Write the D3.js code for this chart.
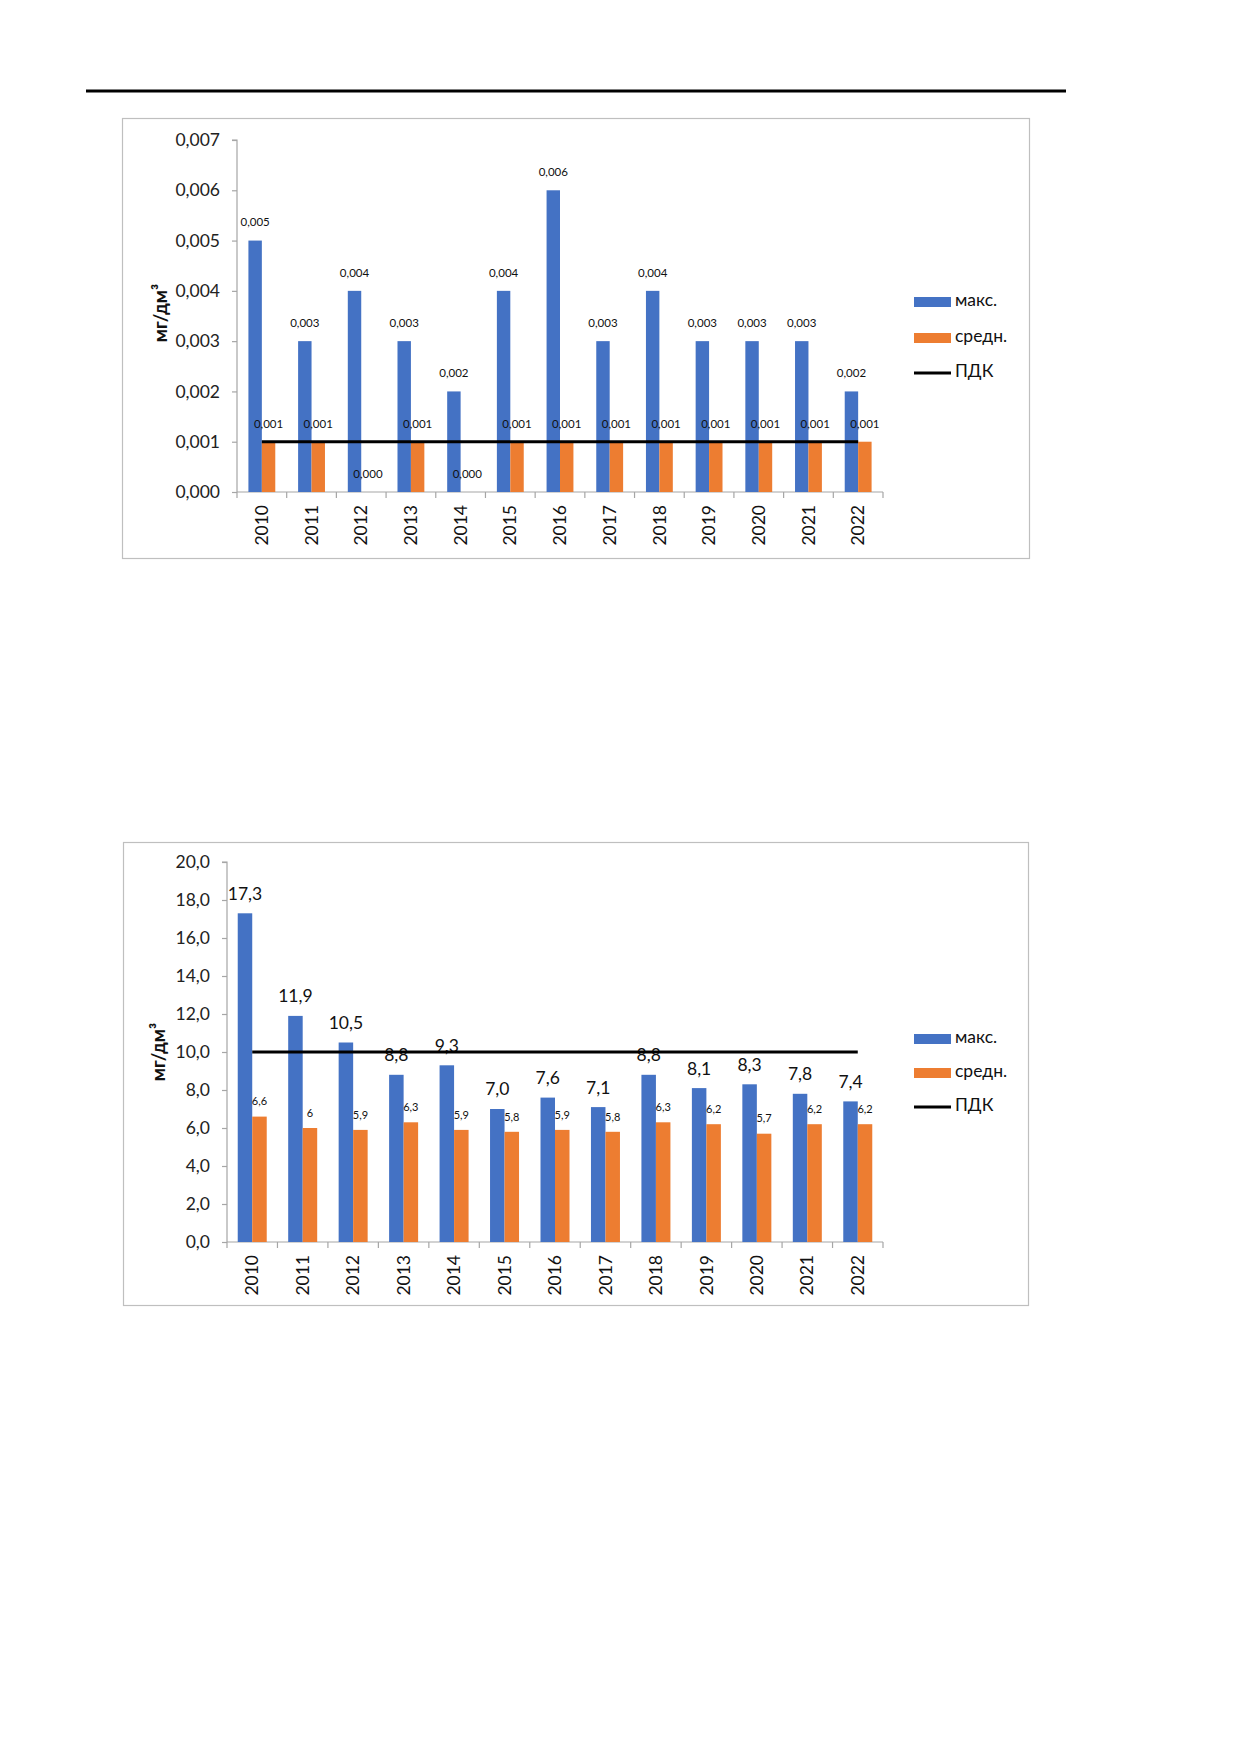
<!DOCTYPE html>
<html><head><meta charset="utf-8">
<script src="https://cdn.jsdelivr.net/npm/d3@7"></script>
<style>
html,body{margin:0;padding:0;background:#fff;}
svg{display:block;font-family:Lato,"Open Sans",sans-serif;}
</style></head>
<body>
<svg id="page" width="1240" height="1754"></svg>
<script>
// ---------- DATA ----------
const years = ["2010","2011","2012","2013","2014","2015","2016","2017","2018","2019","2020","2021","2022"];

// Chart 1
const c1Max = [0.005,0.003,0.004,0.003,0.002,0.004,0.006,0.003,0.004,0.003,0.003,0.003,0.002];
const c1Avg = [0.001,0.001,0,0.001,0,0.001,0.001,0.001,0.001,0.001,0.001,0.001,0.001];
const c1MaxLabels = ["0,005","0,003","0,004","0,003","0,002","0,004","0,006","0,003","0,004","0,003","0,003","0,003","0,002"];
const c1AvgLabels = ["0,001","0,001","0,000","0,001","0,000","0,001","0,001","0,001","0,001","0,001","0,001","0,001","0,001"];
const c1Pdk = 0.001;
const c1Ticks = [0,0.001,0.002,0.003,0.004,0.005,0.006,0.007];
const c1TickLabels = ["0,000","0,001","0,002","0,003","0,004","0,005","0,006","0,007"];

// Chart 2
const c2Max = [17.3,11.9,10.5,8.8,9.3,7.0,7.6,7.1,8.8,8.1,8.3,7.8,7.4];
const c2Avg = [6.6,6.0,5.9,6.3,5.9,5.8,5.9,5.8,6.3,6.2,5.7,6.2,6.2];
const c2MaxLabels = ["17,3","11,9","10,5","8,8","9,3","7,0","7,6","7,1","8,8","8,1","8,3","7,8","7,4"];
const c2AvgLabels = ["6,6","6","5,9","6,3","5,9","5,8","5,9","5,8","6,3","6,2","5,7","6,2","6,2"];
const c2Pdk = 10;
const c2Ticks = [0,2,4,6,8,10,12,14,16,18,20];
const c2TickLabels = ["0,0","2,0","4,0","6,0","8,0","10,0","12,0","14,0","16,0","18,0","20,0"];

const seriesNames = ["макс.","средн.","ПДК"];
const yTitle = "мг/дм³";

// ---------- STYLE ----------
const BLUE = "#4472C4", ORANGE = "#ED7D31";
const AXIS = "#a6a6a6", FRAME = "#bfbfbf";

const svg = d3.select("#page");

// top rule
svg.append("line").attr("x1",86).attr("x2",1066).attr("y1",91).attr("y2",91)
  .attr("stroke","#000").attr("stroke-width",3);

function drawChart(o){
  const g = svg.append("g");
  g.append("rect").attr("x",o.frame[0]+0.5).attr("y",o.frame[1]+0.5)
    .attr("width",o.frame[2]).attr("height",o.frame[3])
    .attr("fill","#fff").attr("stroke",FRAME).attr("stroke-width",1.2);

  const x = d3.scaleBand().domain(years).range([o.x0,o.x1]).padding(0);
  const sub = d3.scaleBand().domain(["max","avg"]).range([0,x.bandwidth()])
    .paddingInner(0).paddingOuter(o.gap);
  const y = d3.scaleLinear().domain([o.ticks[0],o.ticks[o.ticks.length-1]]).range([o.y0,o.yTop]);

  // y axis
  const yAxis = d3.axisLeft(y).tickValues(o.ticks).tickFormat((d,i)=>o.tickLabels[i])
    .tickSize(5).tickPadding(12);
  const ya = g.append("g").attr("transform",`translate(${o.x0},0)`).call(yAxis);
  ya.select(".domain").attr("stroke",AXIS).attr("stroke-width",1.2).attr("d",`M-5,${o.yTop}H0V${o.y0}`);
  ya.selectAll(".tick line").attr("stroke",AXIS).attr("stroke-width",1.2);
  ya.selectAll(".tick text").attr("font-size",17.5).attr("fill","#222").attr("font-family","Lato");

  // x axis
  const xa = g.append("g").attr("transform",`translate(0,${o.y0})`)
    .call(d3.axisBottom(x).tickSize(0).tickPadding(0));
  xa.select(".domain").attr("stroke",AXIS).attr("stroke-width",1.2).attr("d",`M${o.x0},0H${o.x1}`);
  xa.selectAll(".tick text").attr("font-size",17.5).attr("fill","#111").attr("font-family","Lato")
    .attr("transform","rotate(-90)").attr("text-anchor","end").attr("dy","0.35em")
    .attr("x",-13).attr("y",0);
  // category boundary ticks
  xa.selectAll("line.bt").data(years.concat(["end"])).join("line").attr("class","bt")
    .attr("x1",(d,i)=>o.x0+i*x.step()).attr("x2",(d,i)=>o.x0+i*x.step())
    .attr("y1",0).attr("y2",6).attr("stroke",AXIS).attr("stroke-width",1.2);

  // bars
  const data = years.map((yr,i)=>({yr,max:o.max[i],avg:o.avg[i],ml:o.maxLabels[i],al:o.avgLabels[i]}));
  g.selectAll("rect.bmax").data(data).join("rect").attr("class","bmax")
    .attr("x",d=>x(d.yr)+sub("max")).attr("width",sub.bandwidth())
    .attr("y",d=>y(d.max)).attr("height",d=>y(0)-y(d.max)).attr("fill",BLUE);
  g.selectAll("rect.bavg").data(data).join("rect").attr("class","bavg")
    .attr("x",d=>x(d.yr)+sub("avg")).attr("width",sub.bandwidth())
    .attr("y",d=>y(d.avg)).attr("height",d=>y(0)-y(d.avg)).attr("fill",ORANGE);

  // labels
  g.selectAll("text.lmax").data(data).join("text").attr("class","lmax")
    .attr("x",d=>x(d.yr)+sub("max")+sub.bandwidth()/2).attr("y",d=>y(d.max)-o.maxOff)
    .attr("text-anchor","middle").attr("dominant-baseline","middle")
    .attr("font-size",o.maxFont).attr("fill","#111").text(d=>d.ml);
  g.selectAll("text.lavg").data(data).join("text").attr("class","lavg")
    .attr("x",d=>x(d.yr)+sub("avg")+sub.bandwidth()/2).attr("y",d=>y(d.avg)-o.avgOff)
    .attr("text-anchor","middle").attr("dominant-baseline","middle")
    .attr("font-size",o.avgFont).attr("fill","#111").text(d=>d.al);

  // PDK line
  const line = d3.line().x(d=>x(d)+x.bandwidth()/2).y(()=>y(o.pdk));
  g.append("path").datum(years).attr("d",line).attr("fill","none")
    .attr("stroke","#000").attr("stroke-width",3);

  // y title
  g.append("text").attr("transform",`translate(${o.yTitle[0]},${o.yTitle[1]}) rotate(-90)`)
    .attr("text-anchor","middle").attr("dominant-baseline","middle")
    .attr("font-size",18.5).attr("font-weight","bold").attr("fill","#111").text(yTitle);

  // legend
  const lx = 914, lw = 37;
  const lg = g.append("g");
  lg.append("rect").attr("x",lx).attr("y",o.legY[0]-5).attr("width",lw).attr("height",10).attr("fill",BLUE);
  lg.append("rect").attr("x",lx).attr("y",o.legY[1]-5).attr("width",lw).attr("height",10).attr("fill",ORANGE);
  lg.append("line").attr("x1",lx).attr("x2",lx+lw).attr("y1",o.legY[2]).attr("y2",o.legY[2])
    .attr("stroke","#000").attr("stroke-width",3);
  lg.selectAll("text").data(seriesNames).join("text")
    .attr("x",lx+lw+4).attr("y",(d,i)=>o.legY[i]).attr("dominant-baseline","middle")
    .attr("font-size",17.5).attr("fill","#111").text(d=>d);
}

drawChart({
  frame:[122,118,907,440], x0:237, x1:883, y0:492, yTop:140, gap:0.85,
  ticks:c1Ticks, tickLabels:c1TickLabels, max:c1Max, avg:c1Avg,
  maxLabels:c1MaxLabels, avgLabels:c1AvgLabels, pdk:c1Pdk,
  maxFont:11.5, avgFont:11.5, maxOff:17, avgOff:17,
  yTitle:[162,313], legY:[302,338,373]
});
drawChart({
  frame:[123,842,905,463], x0:227, x1:883, y0:1242, yTop:862, gap:0.74,
  ticks:c2Ticks, tickLabels:c2TickLabels, max:c2Max, avg:c2Avg,
  maxLabels:c2MaxLabels, avgLabels:c2AvgLabels, pdk:c2Pdk,
  maxFont:17.5, avgFont:11, maxOff:18, avgOff:14,
  yTitle:[160,1052], legY:[1039,1073,1107]
});
</script>
</body></html>
